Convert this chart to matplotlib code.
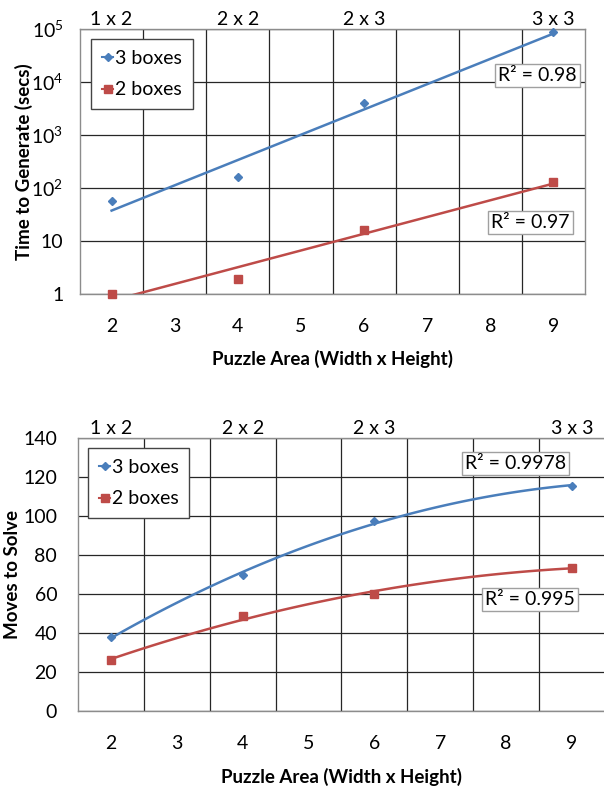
import numpy as np
import matplotlib
matplotlib.use("Agg")
from matplotlib import pyplot as plt
from matplotlib.lines import Line2D
import matplotlib.transforms as mtrans

plt.rcParams['font.family'] = ['Lato', 'DejaVu Sans']
plt.rcParams['mathtext.fontset'] = 'custom'
plt.rcParams['mathtext.rm'] = 'Lato'
plt.rcParams['mathtext.it'] = 'Lato:italic'
plt.rcParams['mathtext.bf'] = 'Lato:bold'

# data
area = [2, 4, 6, 9]
size_labels = ['1 x 2', '2 x 2', '2 x 3', '3 x 3']
x_ticks = [2, 3, 4, 5, 6, 7, 8, 9]

time_3 = [57, 160, 3950, 87000]
time_2 = [1.0, 1.95, 16, 128]
r2_time_3 = 'R² = 0.98'
r2_time_2 = 'R² = 0.97'

moves_3 = [38, 69.5, 97.5, 115.5]
moves_2 = [26, 48.5, 60, 73.5]
r2_moves_3 = 'R² = 0.9978'
r2_moves_2 = 'R² = 0.995'

time_ticks = [1, 10, 100, 1000, 10000, 100000]
time_tick_labels = ['1', '10', '$10^2$', '$10^3$', '$10^4$', '$10^5$']
moves_ticks = [0, 20, 40, 60, 80, 100, 120, 140]

blue = '#4A7EBB'
red = '#BE4B48'
grid_col = '#262626'


def setup_axes(ax, ypad):
    ax.set_xlim(1.5, 9.5)
    ax.set_xticks(x_ticks)
    ax.set_xticks(np.arange(2.5, 9, 1), minor=True)
    ax.tick_params(which='both', length=0, labelsize=14)
    ax.tick_params(axis='x', pad=17)
    ax.tick_params(axis='y', pad=ypad)
    ax.grid(which='minor', axis='x', color=grid_col, lw=0.9)
    ax.grid(which='major', axis='y', color=grid_col, lw=0.9)
    ax.grid(which='major', axis='x', visible=False)
    for s in ax.spines.values():
        s.set_color('#8c8c8c')
        s.set_linewidth(1.0)
    ax.set_axisbelow(True)
    tr = mtrans.blended_transform_factory(ax.transData, ax.transAxes)
    for a, lab in zip(area, size_labels):
        ax.text(a, 1.005, lab, transform=tr, ha='center', va='bottom', fontsize=14)


def add_legend(ax, x, y):
    handles = [
        Line2D([], [], color=blue, marker='D', markersize=4.5, lw=1.5),
        Line2D([], [], color=red, marker='s', markersize=6, lw=1.5),
    ]
    leg = ax.legend(handles, ['3 boxes', '2 boxes'], loc='upper left',
                    bbox_to_anchor=(x, y), borderaxespad=0, fontsize=14,
                    fancybox=False, framealpha=1, edgecolor='#444444',
                    handlelength=0.6, handletextpad=0.08, borderpad=0.55,
                    labelspacing=0.75)
    leg.get_frame().set_linewidth(1.0)


def r2_box(ax, x, y, txt):
    ax.text(x, y, txt, transform=ax.transAxes, ha='center', va='center',
            fontsize=14,
            bbox=dict(boxstyle='square,pad=0.15', fc='white', ec='#a0a0a0', lw=1.0))


fig = plt.figure(figsize=(6.04, 7.87), dpi=100)

# top chart: time to generate (log)
ax1 = fig.add_axes([0.1325, 0.6264, 0.836, 0.3368])
ax1.set_yscale('log')
ax1.set_ylim(1, 1e5)
setup_axes(ax1, 12)
ax1.set_yticks(time_ticks)
ax1.set_yticklabels(time_tick_labels)
ax1.yaxis.set_minor_locator(matplotlib.ticker.NullLocator())

xs = np.linspace(2, 9, 100)
for vals, col, mk, ms in [(time_3, blue, 'D', 4.5), (time_2, red, 's', 6)]:
    k, b = np.polyfit(area, np.log(vals), 1)
    ax1.plot(xs, np.exp(b + k * xs), color=col, lw=1.8)
    ax1.plot(area, vals, mk, color=col, markersize=ms, clip_on=False, zorder=4)

add_legend(ax1, 0.022, 0.962)
r2_box(ax1, 0.906, 0.823, r2_time_3)
r2_box(ax1, 0.892, 0.27, r2_time_2)
ax1.set_ylabel('Time to Generate (secs)', fontsize=13.5, fontweight='bold')
ax1.yaxis.set_label_coords(-0.093, 0.5)
ax1.set_xlabel('Puzzle Area (Width x Height)', fontsize=13.5, fontweight='bold')
ax1.xaxis.set_label_coords(0.5, -0.21)

# bottom chart: moves to solve
ax2 = fig.add_axes([0.1291, 0.0966, 0.8725, 0.3469])
ax2.set_ylim(0, 140)
setup_axes(ax2, 15)
ax2.set_yticks(moves_ticks)

for vals, col, mk, ms in [(moves_3, blue, 'D', 4.5), (moves_2, red, 's', 6)]:
    c = np.polyfit(area, vals, 2)
    ax2.plot(xs, np.polyval(c, xs), color=col, lw=1.8)
    ax2.plot(area, vals, mk, color=col, markersize=ms, clip_on=False, zorder=4)

add_legend(ax2, 0.019, 0.963)
r2_box(ax2, 0.831, 0.907, r2_moves_3)
r2_box(ax2, 0.858, 0.407, r2_moves_2)
ax2.set_ylabel('Moves to Solve', fontsize=13.5, fontweight='bold')
ax2.yaxis.set_label_coords(-0.108, 0.5)
ax2.set_xlabel('Puzzle Area (Width x Height)', fontsize=13.5, fontweight='bold')
ax2.xaxis.set_label_coords(0.5, -0.21)

fig.savefig('out.png', dpi=100)
